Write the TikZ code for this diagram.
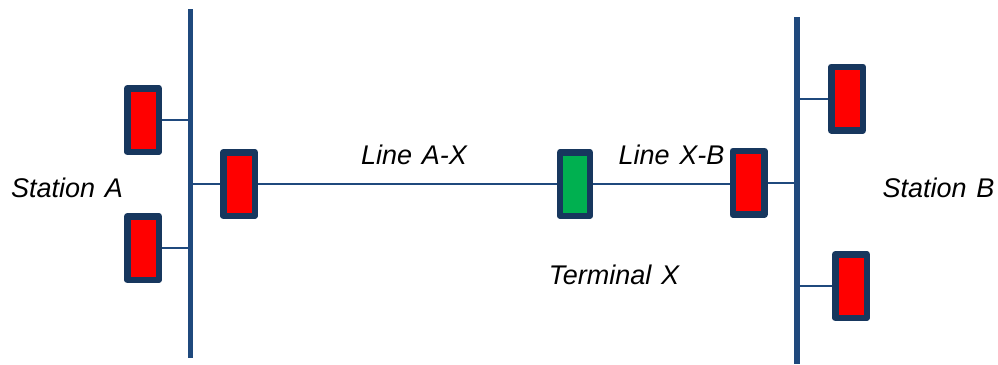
\documentclass[tikz,border=0pt]{standalone}
\usepackage{fontspec}
\setmainfont{Liberation Sans}
\usepackage{tikz}
\usetikzlibrary{positioning}
\usetikzlibrary{calc}
\definecolor{busblue}{HTML}{1F497D}
\definecolor{relayblue}{HTML}{17375E}
\definecolor{relaygreen}{HTML}{00B050}
\tikzset{
  relay/.style={draw=relayblue, line width=6.5pt, line join=round, fill=red, minimum width=31.5pt, minimum height=63.5pt, inner sep=0pt},
  bus/.style={draw=busblue, line width=5.8pt},
  feeder/.style={draw=busblue, line width=2pt},
  lbl/.style={font=\fontsize{27}{27}\selectfont\itshape, inner sep=0pt, anchor=base}
}
\newcommand{\wsp}{\hspace{0.36em}}
\begin{document}
\begin{tikzpicture}[x=1pt,y=-1pt]
\useasboundingbox (0,0) rectangle (998,364);

\coordinate (busAtop) at (190.5,9);
\coordinate (busAbot) at (190.5,358);
\coordinate (busBtop) at (796.8,17);
\coordinate (busBbot) at (796.8,364);

\node[relay] (relayA1) at (143,120) {};
\node[relay] (relayA2) at (143,248) {};
\node[relay] (relayAX) at (239,184) {};
\node[relay, fill=relaygreen, minimum width=29.7pt] (termX) at (575,184) {};
\node[relay] (relayXB) at (748.5,182.7) {};
\node[relay] (relayB1) at (847,98.5) {};
\node[relay] (relayB2) at (851,286) {};

\draw[bus] (busAtop) -- (busAbot);% Bus A
\draw[bus] (busBtop) -- (busBbot);% Bus B

\draw[feeder] (relayA1.east) -- (relayA1.east -| busAtop);
\draw[feeder] (relayA2.east) -- (relayA2.east -| busAtop);
\draw[feeder] (relayAX.west) -- (relayAX.west -| busAtop);
\draw[feeder] (relayAX.east) -- (termX.west);
\draw[feeder] (termX.east) -- (termX.east -| relayXB.west);
\draw[feeder] (relayXB.east) -- (relayXB.east -| busBtop);
\draw[feeder] (relayB1.west) -- (relayB1.west -| busBtop);
\draw[feeder] (relayB2.west) -- (relayB2.west -| busBtop);

\node[lbl] (stationA) at (67,197) {Station\wsp A};
\node[lbl] (stationB) at (938.5,197) {Station\wsp B};
\node[lbl] (lineAX) at (414,164) {Line\wsp A-X};
\node[lbl] (lineXB) at (671.5,164) {Line\wsp X-B};
\node[lbl] (labelX) at (614,284) {Terminal\wsp X};
\end{tikzpicture}
\end{document}
